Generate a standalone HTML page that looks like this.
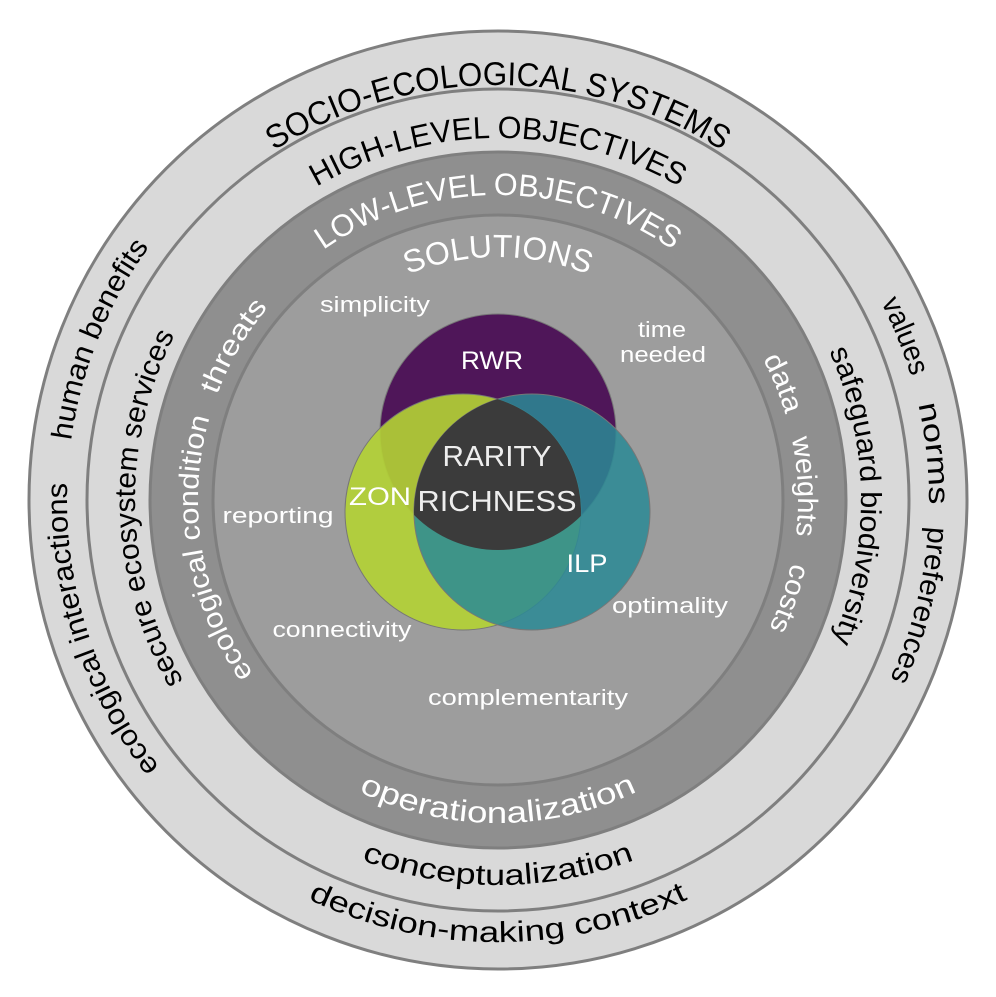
<!DOCTYPE html>
<html><head><meta charset="utf-8"><style>
html,body{margin:0;padding:0;background:#fff}
svg{display:block}
text{font-family:"Liberation Sans",sans-serif}
</style></head><body>
<svg width="996" height="997" viewBox="0 0 996 997" xmlns="http://www.w3.org/2000/svg">
<defs>
<path id="cw415" d="M498,915 A415,415 0 1 1 498,85 A415,415 0 1 1 498,915"/>
<path id="cw362" d="M498,862 A362,362 0 1 1 498,138 A362,362 0 1 1 498,862"/>
<path id="cw305" d="M498,805 A305,305 0 1 1 498,195 A305,305 0 1 1 498,805"/>
<path id="cw243" d="M498,743 A243,243 0 1 1 498,257 A243,243 0 1 1 498,743"/>
<path id="cw431" d="M498,931 A431,431 0 1 1 498,69 A431,431 0 1 1 498,931"/>
<path id="cw363" d="M498,863 A363,363 0 1 1 498,137 A363,363 0 1 1 498,863"/>
<path id="cw300" d="M498,800 A300,300 0 1 1 498,200 A300,300 0 1 1 498,800"/>
<path id="ccw442" d="M498,58 A442,442 0 1 0 498,942 A442,442 0 1 0 498,58"/>
<path id="ccw385" d="M498,115 A385,385 0 1 0 498,885 A385,385 0 1 0 498,115"/>
<path id="ccw323" d="M498,177 A323,323 0 1 0 498,823 A323,323 0 1 0 498,177"/>
<clipPath id="cz"><circle cx="463" cy="512" r="118"/></clipPath>
<clipPath id="cr"><circle cx="498" cy="432" r="118"/></clipPath>
</defs>
<circle cx="498" cy="500" r="469" fill="#d9d9d9" stroke="#7f7f7f" stroke-width="3"/>
<circle cx="498" cy="500" r="411" fill="#d9d9d9" stroke="#7f7f7f" stroke-width="3"/>
<circle cx="498" cy="500" r="348" fill="#8f8f8f" stroke="#7f7f7f" stroke-width="3"/>
<circle cx="498" cy="500" r="285" fill="#9d9d9d" stroke="#7f7f7f" stroke-width="3"/>

<g fill="#000" font-size="33">
<text><textPath href="#cw415" startOffset="50%" text-anchor="middle" textLength="473" lengthAdjust="spacingAndGlyphs">SOCIO-ECOLOGICAL SYSTEMS</textPath></text>
<text font-size="31"><textPath href="#cw362" startOffset="50%" text-anchor="middle" textLength="380" lengthAdjust="spacingAndGlyphs">HIGH-LEVEL OBJECTIVES</textPath></text>
</g>
<g fill="#fff">
<text font-size="31"><textPath href="#cw305" startOffset="50%" text-anchor="middle" textLength="372" lengthAdjust="spacingAndGlyphs">LOW-LEVEL OBJECTIVES</textPath></text>
<text font-size="32"><textPath href="#cw243" startOffset="50%" text-anchor="middle" textLength="185" lengthAdjust="spacingAndGlyphs">SOLUTIONS</textPath></text>
</g>

<g fill="#000" font-size="29">
<text><textPath href="#ccw442" startOffset="50%" text-anchor="middle" textLength="393" lengthAdjust="spacingAndGlyphs">decision-making context</textPath></text>
<text><textPath href="#ccw385" startOffset="50%" text-anchor="middle" textLength="279" lengthAdjust="spacingAndGlyphs">conceptualization</textPath></text>
<text><textPath href="#cw431" startOffset="20%" text-anchor="middle" textLength="305" lengthAdjust="spacingAndGlyphs">ecological interactions</textPath></text>
<text><textPath href="#cw431" startOffset="31.1%" text-anchor="middle" textLength="211" lengthAdjust="spacingAndGlyphs">human benefits</textPath></text>
<text><textPath href="#cw363" startOffset="24.6%" text-anchor="middle" textLength="361" lengthAdjust="spacingAndGlyphs">secure ecosystem services</textPath></text>
<text><textPath href="#cw431" startOffset="68.9%" text-anchor="middle" textLength="80" lengthAdjust="spacingAndGlyphs">values</textPath></text>
<text><textPath href="#cw431" startOffset="73.3%" text-anchor="middle" textLength="101" lengthAdjust="spacingAndGlyphs">norms</textPath></text>
<text><textPath href="#cw431" startOffset="78.9%" text-anchor="middle" textLength="158" lengthAdjust="spacingAndGlyphs">preferences</textPath></text>
<text><textPath href="#cw363" startOffset="74.8%" text-anchor="middle" textLength="298" lengthAdjust="spacingAndGlyphs">safeguard biodiversity</textPath></text>
</g>
<g fill="#fff" font-size="28">
<text font-size="30"><textPath href="#ccw323" startOffset="50%" text-anchor="middle" textLength="288" lengthAdjust="spacingAndGlyphs">operationalization</textPath></text>
<text><textPath href="#cw300" startOffset="22.3%" text-anchor="middle" textLength="269" lengthAdjust="spacingAndGlyphs">ecological condition</textPath></text>
<text><textPath href="#cw300" startOffset="33.4%" text-anchor="middle" textLength="102" lengthAdjust="spacingAndGlyphs">threats</textPath></text>
<text><textPath href="#cw300" startOffset="68.8%" text-anchor="middle" textLength="60" lengthAdjust="spacingAndGlyphs">data</textPath></text>
<text><textPath href="#cw300" startOffset="74.3%" text-anchor="middle" textLength="98" lengthAdjust="spacingAndGlyphs">weights</textPath></text>
<text><textPath href="#cw300" startOffset="80.2%" text-anchor="middle" textLength="69" lengthAdjust="spacingAndGlyphs">costs</textPath></text>
</g>

<g fill="#fff" font-size="22" text-anchor="middle">
<text x="375" y="312" textLength="110" lengthAdjust="spacingAndGlyphs">simplicity</text>
<text x="662" y="337" textLength="48" lengthAdjust="spacingAndGlyphs">time</text>
<text x="663" y="362" textLength="86" lengthAdjust="spacingAndGlyphs">needed</text>
<text x="278" y="523" textLength="111" lengthAdjust="spacingAndGlyphs">reporting</text>
<text x="342" y="637" textLength="139" lengthAdjust="spacingAndGlyphs">connectivity</text>
<text x="528" y="705" textLength="200" lengthAdjust="spacingAndGlyphs">complementarity</text>
<text x="670" y="613" textLength="116" lengthAdjust="spacingAndGlyphs">optimality</text>
</g>

<circle cx="498" cy="432" r="118" fill="#4f1659" stroke="#777" stroke-width="1"/>
<circle cx="463" cy="512" r="118" fill="#b4d334" fill-opacity="0.9" stroke="#777" stroke-width="1"/>
<circle cx="532" cy="512" r="118" fill="#2a8a95" fill-opacity="0.85" stroke="#777" stroke-width="1"/>
<g clip-path="url(#cz)"><circle cx="532" cy="512" r="118" fill="#3b3b3b" clip-path="url(#cr)"/></g>

<g fill="#fff" text-anchor="middle">
<text x="492" y="369" font-size="25" textLength="62" lengthAdjust="spacingAndGlyphs">RWR</text>
<text x="380" y="505" font-size="25" textLength="62" lengthAdjust="spacingAndGlyphs">ZON</text>
<text x="587" y="572" font-size="25" textLength="41" lengthAdjust="spacingAndGlyphs">ILP</text>
<text x="497" y="466" font-size="29" fill="#eee" textLength="109" lengthAdjust="spacingAndGlyphs">RARITY</text>
<text x="497" y="511" font-size="29" fill="#eee" textLength="159" lengthAdjust="spacingAndGlyphs">RICHNESS</text>
</g>
</svg>
</body></html>
